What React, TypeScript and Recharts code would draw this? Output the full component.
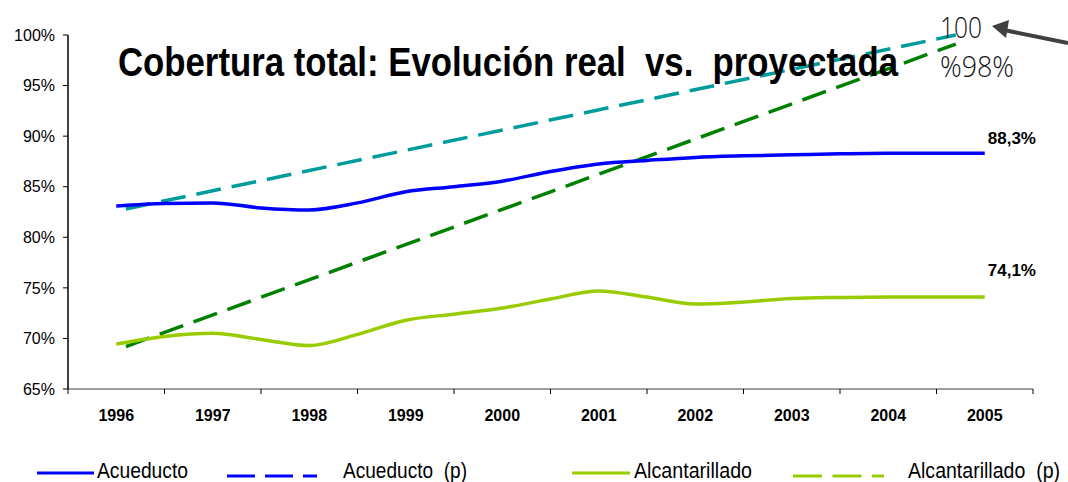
import { LineChart, Line, XAxis, YAxis } from "recharts";

// half-year sample points
const times = [
  1996, 1996.5, 1997, 1997.5, 1998, 1998.5, 1999, 1999.5, 2000, 2000.5,
  2001, 2001.5, 2002, 2002.5, 2003, 2003.5, 2004, 2004.5, 2005,
];
const acueducto = [
  83.1, 83.35, 83.4, 82.9, 82.7, 83.4, 84.5, 85.0, 85.55, 86.5,
  87.25, 87.6, 87.9, 88.05, 88.15, 88.25, 88.3, 88.3, 88.3,
];
const alcantarillado = [
  69.45, 70.2, 70.5, 69.9, 69.3, 70.4, 71.8, 72.4, 73.0, 73.9,
  74.7, 74.1, 73.4, 73.6, 73.95, 74.05, 74.1, 74.1, 74.1,
];

// projected (p) lines
const projTimes = [1996.1, 2004.7];
const acueductoProj = [82.8, 100];
const alcantarilladoProj = [69.2, 99.1];

const yearLabels = ["1996", "1997", "1998", "1999", "2000", "2001", "2002", "2003", "2004", "2005"];
const bandEdges = [1995.5, 1996.5, 1997.5, 1998.5, 1999.5, 2000.5, 2001.5, 2002.5, 2003.5, 2004.5, 2005.5];
const yTicks = [65, 70, 75, 80, 85, 90, 95, 100];
const endLabels = ["88,3%", "74,1%"];

const title = "Cobertura total: Evolución real  vs.  proyectada";
const legendNames = ["Acueducto", "Acueducto  (p)", "Alcantarillado", "Alcantarillado  (p)"];
const notes = ["100", "%98%"];

const W = 1068;
const H = 482;
const LEFT = 68;
const RIGHT = 35;
const HALF_BAND = (W - LEFT - RIGHT) / 20;
const FONT = "'Liberation Sans', Arial, sans-serif";
const NARROW = "'Liberation Sans Narrow', 'Liberation Sans', Arial, sans-serif";
const LIGHT = "'Open Sans', Roboto, 'Noto Sans', sans-serif";

const data = times.map((t, i) => ({ t, acu: acueducto[i], alc: alcantarillado[i] }));
const projData = projTimes.map((t, i) => ({ t, acuP: acueductoProj[i], alcP: alcantarilladoProj[i] }));

function YearTick(props: any) {
  const { x, y, payload } = props;
  const i = bandEdges.indexOf(payload.value);
  if (i < 0 || i >= yearLabels.length) return null;
  return (
    <text x={x + HALF_BAND} y={y} dy={25} textAnchor="middle" fontFamily={FONT} fontWeight="bold" fontSize={16} fill="#000">
      {yearLabels[i]}
    </text>
  );
}

function endLabel(text: string, dy: number) {
  return (props: any) => {
    if (props.index !== times.length - 1) return null;
    return (
      <text x={props.x + 3} y={props.y + dy} fontFamily={FONT} fontWeight="bold" fontSize={17} fill="#000">
        {text}
      </text>
    );
  };
}

export default function App() {
  return (
    <div style={{ position: "absolute", left: 0, top: 0, width: W, height: H, background: "#fff" }}>
      <LineChart width={W} height={H} margin={{ top: 35, right: RIGHT, bottom: 58, left: 0 }}>
        <XAxis
          type="number"
          dataKey="t"
          domain={[1995.5, 2005.5]}
          ticks={bandEdges}
          interval={0}
          height={35}
          axisLine={{ stroke: "#808080", strokeWidth: 1.5 }}
          tickLine={{ stroke: "#000" }}
          tickSize={5}
          tick={(p: any) => <YearTick {...p} />}
        />
        <YAxis
          type="number"
          domain={[65, 100]}
          ticks={yTicks}
          interval={0}
          width={LEFT}
          axisLine={{ stroke: "#000", strokeWidth: 1.5 }}
          tickLine={{ stroke: "#000" }}
          tickSize={5}
          tickMargin={8}
          tick={{ fontSize: 16, fill: "#000", fontFamily: FONT }}
          tickFormatter={(v) => `${v}%`}
        />
        <Line
          data={projData}
          dataKey="acuP"
          stroke="#009C9C"
          strokeWidth={3.5}
          strokeDasharray="25 11"
          dot={false}
          activeDot={false}
          isAnimationActive={false}
        />
        <Line
          data={projData}
          dataKey="alcP"
          stroke="#008000"
          strokeWidth={3.5}
          strokeDasharray="25 11"
          dot={false}
          activeDot={false}
          isAnimationActive={false}
        />
        <Line
          data={data}
          type="monotone"
          dataKey="acu"
          stroke="#0000FF"
          strokeWidth={3.5}
          dot={false}
          activeDot={false}
          isAnimationActive={false}
          label={endLabel(endLabels[0], -9)}
        />
        <Line
          data={data}
          type="monotone"
          dataKey="alc"
          stroke="#99CC00"
          strokeWidth={3.5}
          dot={false}
          activeDot={false}
          isAnimationActive={false}
          label={endLabel(endLabels[1], -21)}
        />
      </LineChart>

      {/* title, hand annotation and legend */}
      <svg width={W} height={H} style={{ position: "absolute", left: 0, top: 0, pointerEvents: "none" }}>
        <text x={118} y={76} fontFamily={NARROW} fontWeight="bold" fontSize={41} fill="#000"
          textLength={780} lengthAdjust="spacingAndGlyphs" style={{ whiteSpace: "pre" }}>
          {title}
        </text>

        <text x={940} y={38} fontFamily={LIGHT} fontWeight={300} fontSize={30} fill="#111"
          textLength={42} lengthAdjust="spacingAndGlyphs">{notes[0]}</text>
        <text x={940} y={77} fontFamily={LIGHT} fontWeight={300} fontSize={30} fill="#111"
          textLength={74} lengthAdjust="spacingAndGlyphs">{notes[1]}</text>
        <line x1={1068} y1={43} x2={1004} y2={30} stroke="#404040" strokeWidth={4} />
        <polygon points="992,26 1009,20 1006,38" fill="#404040" />

        <line x1={37} y1={473} x2={94} y2={473} stroke="#0000FF" strokeWidth={3} />
        <text x={97} y={478} fontFamily={NARROW} fontSize={22} fill="#000"
          textLength={91} lengthAdjust="spacingAndGlyphs">{legendNames[0]}</text>
        <line x1={227} y1={476} x2={317} y2={476} stroke="#0000FF" strokeWidth={3} strokeDasharray="28 10" />
        <text x={343} y={478} fontFamily={NARROW} fontSize={22} fill="#000" style={{ whiteSpace: "pre" }}
          textLength={124} lengthAdjust="spacingAndGlyphs">{legendNames[1]}</text>
        <line x1={572} y1={473} x2={630} y2={473} stroke="#99CC00" strokeWidth={3} />
        <text x={634} y={478} fontFamily={NARROW} fontSize={22} fill="#000"
          textLength={118} lengthAdjust="spacingAndGlyphs">{legendNames[2]}</text>
        <line x1={793} y1={476} x2={884} y2={476} stroke="#99CC00" strokeWidth={3} strokeDasharray="29 10.5" />
        <text x={908} y={478} fontFamily={NARROW} fontSize={22} fill="#000" style={{ whiteSpace: "pre" }}
          textLength={152} lengthAdjust="spacingAndGlyphs">{legendNames[3]}</text>
      </svg>
    </div>
  );
}
